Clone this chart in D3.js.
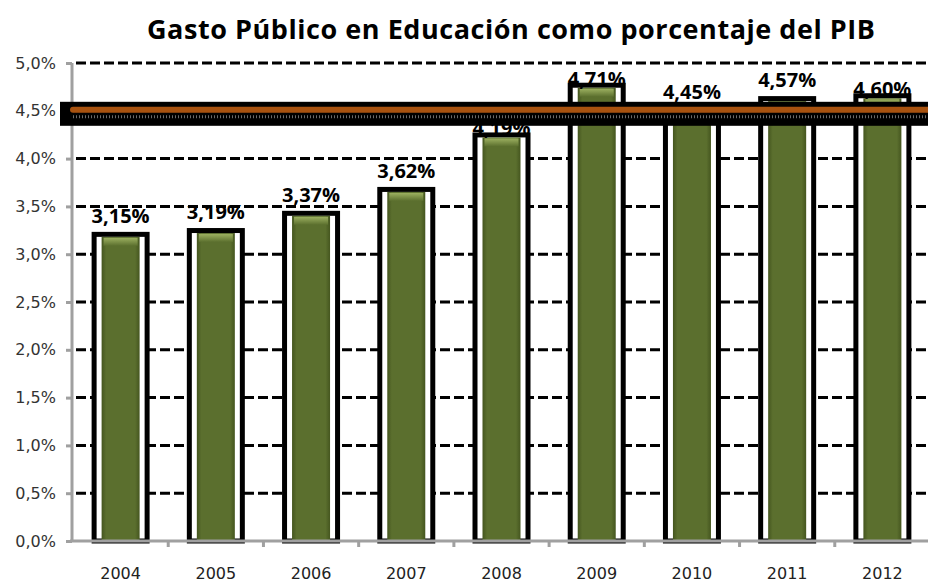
<!DOCTYPE html>
<html>
<head>
<meta charset="utf-8">
<script src="https://cdn.jsdelivr.net/npm/d3@7"></script>
<style>
  body { margin: 0; background: #fff; }
  svg { display: block; }
</style>
</head>
<body>
<div id="chart"></div>
<script>
// data
const years = ['2004', '2005', '2006', '2007', '2008', '2009', '2010', '2011', '2012'];
const gasto = [3.15, 3.19, 3.37, 3.62, 4.19, 4.71, 4.45, 4.57, 4.60];
const yTicks = [0, 0.5, 1, 1.5, 2, 2.5, 3, 3.5, 4, 4.5, 5];
const meta = 4.5;
// labels that Excel placed at the bar end instead of above it
const labelAtEnd = ['2008', '2009', '2012'];

const fmt = v => d3.format('.2f')(v).replace('.', ',') + '%';
const fmtAxis = v => d3.format('.1f')(v).replace('.', ',') + '%';

function drawChart() {
  const W = 928, H = 582;

  const svg = d3.select('#chart').append('svg')
    .attr('width', W)
    .attr('height', H);

  const defs = svg.append('defs');
  const side = defs.append('linearGradient').attr('id', 'side')
    .attr('x1', 0).attr('x2', 1).attr('y1', 0).attr('y2', 0);
  side.append('stop').attr('offset', '0%').attr('stop-color', '#45561f');
  side.append('stop').attr('offset', '12%').attr('stop-color', '#5b6f2e');
  side.append('stop').attr('offset', '88%').attr('stop-color', '#5b6f2e');
  side.append('stop').attr('offset', '100%').attr('stop-color', '#45561f');
  const top = defs.append('linearGradient').attr('id', 'top')
    .attr('x1', 0).attr('x2', 0).attr('y1', 0).attr('y2', 1);
  top.append('stop').attr('offset', '0%').attr('stop-color', '#9cb060');
  top.append('stop').attr('offset', '100%').attr('stop-color', '#5b6f2e');

  // scales
  const x = d3.scaleBand()
    .domain(years)
    .range([73, 930]);
  const y = d3.scaleLinear()
    .domain([0, 5])
    .range([541, 63]);

  // title
  svg.append('text')
    .attr('x', 511)
    .attr('y', 39)
    .attr('text-anchor', 'middle')
    .attr('textLength', 728)
    .style('font-family', '"Open Sans", sans-serif')
    .style('font-weight', 'bold')
    .style('font-size', '27px')
    .text('Gasto Público en Educación como porcentaje del PIB');

  // dashed gridlines
  svg.append('g')
    .selectAll('line')
    .data(yTicks.filter(d => d > 0))
    .join('line')
      .attr('x1', 76)
      .attr('x2', W)
      .attr('y1', d => y(d))
      .attr('y2', d => y(d))
      .attr('stroke', '#000')
      .attr('stroke-width', 3)
      .attr('stroke-dasharray', '10,4');

  const bars = svg.append('g')
    .selectAll('g')
    .data(years.map((yr, i) => ({ yr, v: gasto[i] })))
    .join('g');

  // black frame around each bar
  bars.append('rect')
    .attr('x', d => x(d.yr) + x.bandwidth() / 2 - 26.5)
    .attr('y', d => y(d.v) - 5.5)
    .attr('width', 53)
    .attr('height', d => y(0) - y(d.v) + 5.5)
    .attr('fill', '#fff')
    .attr('stroke', '#000')
    .attr('stroke-width', 5);

  // green bar
  bars.append('rect')
    .attr('x', d => x(d.yr) + x.bandwidth() / 2 - 19)
    .attr('y', d => y(d.v) - 3)
    .attr('width', 38)
    .attr('height', d => y(0) - y(d.v) + 3)
    .attr('fill', 'url(#side)');

  // bevel on the top of the bar
  bars.append('rect')
    .attr('x', d => x(d.yr) + x.bandwidth() / 2 - 17)
    .attr('y', d => y(d.v) - 2)
    .attr('width', 34)
    .attr('height', 8)
    .attr('fill', 'url(#top)');

  // value labels
  bars.append('text')
    .attr('x', d => x(d.yr) + x.bandwidth() / 2)
    .attr('y', d => y(d.v) - (labelAtEnd.includes(d.yr) ? 5 : 17))
    .attr('text-anchor', 'middle')
    .style('font-family', '"Open Sans", sans-serif')
    .style('font-weight', 'bold')
    .style('font-size', '20px')
    .text(d => fmt(d.v));

  // y axis
  const yAxis = svg.append('g')
    .attr('transform', 'translate(72,0)')
    .call(d3.axisLeft(y).tickValues(yTicks).tickFormat(fmtAxis).tickSize(6).tickPadding(10));
  yAxis.select('.domain').attr('stroke', '#a0a0a0').attr('stroke-width', 3).attr('d', 'M0,63V542');
  yAxis.selectAll('.tick line').attr('stroke', '#a0a0a0').attr('stroke-width', 3);
  yAxis.selectAll('.tick text')
    .attr('fill', '#333')
    .style('font-family', '"DejaVu Sans", sans-serif')
    .style('font-size', '16px');

  // x axis
  const xAxis = svg.append('g')
    .attr('transform', 'translate(0,' + y(0) + ')')
    .call(d3.axisBottom(x).tickSize(0).tickPadding(0));
  xAxis.select('.domain').attr('stroke', '#a0a0a0').attr('stroke-width', 3).attr('d', 'M70,0H' + W);
  xAxis.selectAll('.tick text')
    .attr('y', 38)
    .attr('dy', null)
    .attr('fill', '#222')
    .style('font-family', '"DejaVu Sans", sans-serif')
    .style('font-size', '16px');
  xAxis.selectAll('.sep')
    .data(years.slice(1))
    .join('line')
      .attr('class', 'sep')
      .attr('x1', d => x(d))
      .attr('x2', d => x(d))
      .attr('y1', 0)
      .attr('y2', 6)
      .attr('stroke', '#a0a0a0')
      .attr('stroke-width', 3);

  // 4.5% reference line
  const ref = svg.append('g');
  ref.append('rect')
    .attr('x', 60)
    .attr('y', y(meta) - 9)
    .attr('width', W - 60)
    .attr('height', 24)
    .attr('fill', '#000');
  ref.append('line')
    .attr('x1', 73)
    .attr('x2', W + 5)
    .attr('y1', y(meta) - 1)
    .attr('y2', y(meta) - 1)
    .attr('stroke', '#a8520f')
    .attr('stroke-width', 6)
    .attr('stroke-linecap', 'round');
  ref.append('line')
    .attr('x1', 73)
    .attr('x2', W)
    .attr('y1', y(meta) + 6)
    .attr('y2', y(meta) + 6)
    .attr('stroke', '#6a6a6a')
    .attr('stroke-width', 3)
    .attr('stroke-dasharray', '1,2');
}

(function main() {
  drawChart();
})();
</script>
</body>
</html>
